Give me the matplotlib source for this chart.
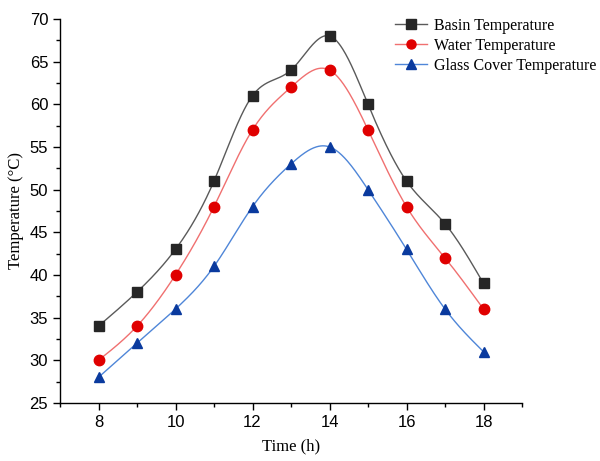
import numpy as np
import matplotlib.pyplot as plt
from matplotlib.ticker import MultipleLocator

hours = [8, 9, 10, 11, 12, 13, 14, 15, 16, 17, 18]
basin_temp = [34, 38, 43, 51, 61, 64, 68, 60, 51, 46, 39]
water_temp = [30, 34, 40, 48, 57, 62, 64, 57, 48, 42, 36]
glass_temp = [28, 32, 36, 41, 48, 53, 55, 50, 43, 36, 31]


def spline_curve(x, y, n=400):
    """Natural cubic spline through the points, for drawing the smooth line."""
    x = np.asarray(x, float)
    y = np.asarray(y, float)
    k = len(x)
    h = np.diff(x)
    A = np.zeros((k, k))
    b = np.zeros(k)
    A[0, 0] = A[-1, -1] = 1.0
    for i in range(1, k - 1):
        A[i, i - 1] = h[i - 1]
        A[i, i] = 2 * (h[i - 1] + h[i])
        A[i, i + 1] = h[i]
        b[i] = 3 * ((y[i + 1] - y[i]) / h[i] - (y[i] - y[i - 1]) / h[i - 1])
    c = np.linalg.solve(A, b)
    xs = np.linspace(x[0], x[-1], n)
    idx = np.clip(np.searchsorted(x, xs) - 1, 0, k - 2)
    dx = xs - x[idx]
    hi = h[idx]
    bb = (y[idx + 1] - y[idx]) / hi - hi * (2 * c[idx] + c[idx + 1]) / 3
    dd = (c[idx + 1] - c[idx]) / (3 * hi)
    ys = y[idx] + bb * dx + c[idx] * dx ** 2 + dd * dx ** 3
    return xs, ys


series = [
    ("Basin Temperature", basin_temp, "#5a5a5a", "#262626", "s"),
    ("Water Temperature", water_temp, "#f07070", "#e00000", "o"),
    ("Glass Cover Temperature", glass_temp, "#4f86d8", "#0a3a9e", "^"),
]

fig = plt.figure(figsize=(6, 4.61), dpi=100)
ax = fig.add_axes([0.1, 0.126, 0.77, 0.833])

handles = []
for label, vals, line_c, mark_c, mk in series:
    xs, ys = spline_curve(hours, vals)
    ax.plot(xs, ys, color=line_c, linewidth=1.0, zorder=2)
    ax.plot(hours, vals, linestyle="none", marker=mk, markersize=7.5,
            color=mark_c, markeredgecolor=mark_c, zorder=3)
    h, = ax.plot([], [], color=line_c, linewidth=1.0, marker=mk,
                 markersize=6.5, markerfacecolor=mark_c, markeredgecolor=mark_c,
                 label=label)
    handles.append(h)

ax.set_xlim(7, 19)
ax.set_ylim(25, 70)
ax.xaxis.set_major_locator(MultipleLocator(2))
ax.xaxis.set_minor_locator(MultipleLocator(1))
ax.yaxis.set_major_locator(MultipleLocator(5))
ax.yaxis.set_minor_locator(MultipleLocator(2.5))

ax.spines["top"].set_visible(False)
ax.spines["right"].set_visible(False)
ax.spines["left"].set_linewidth(1.0)
ax.spines["bottom"].set_linewidth(1.0)
ax.tick_params(which="major", direction="out", length=5, width=1.0,
               labelsize=12)
ax.tick_params(which="minor", direction="out", length=3, width=1.0)
for t in ax.get_xticklabels() + ax.get_yticklabels():
    t.set_fontfamily("Liberation Sans")

ax.set_xlabel("Time (h)", fontsize=12, fontfamily="Liberation Serif",
              labelpad=6)
ax.set_ylabel("Temperature (\u00b0C)", fontsize=12,
              fontfamily="Liberation Serif", labelpad=4)

fig.legend(handles=handles, loc="upper left", bbox_to_anchor=(0.648, 0.975),
           frameon=False, prop={"family": "Liberation Serif", "size": 11.5},
           handlelength=2.0, handletextpad=0.4, labelspacing=0.25,
           borderaxespad=0)

fig.savefig("out.png", dpi=100)
